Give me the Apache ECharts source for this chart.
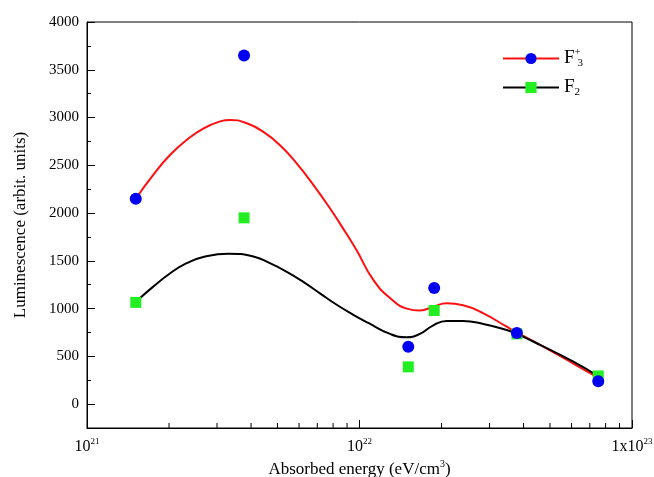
<!DOCTYPE html>
<html>
<head>
<meta charset="utf-8">
<title>Luminescence vs absorbed energy</title>
<style>
html,body{margin:0;padding:0;background:#fff;width:100%;height:100%;}
#main{width:654px;height:477px;}
</style>
<script src="https://cdn.jsdelivr.net/npm/echarts@6/dist/echarts.min.js"></script>
</head>
<body>
<div id="main"></div>
<script>
// measured points (absorbed energy eV/cm3, luminescence)
var energy = [1.51e21, 3.77e21, 1.51e22, 1.88e22, 3.78e22, 7.52e22];
var lumF3 = [2150, 3650, 600, 1215, 745, 240];
var lumF2 = [1065, 1950, 390, 980, 735, 295];

// fitted curves
var fitF3x = [1.51e21, 1.75e21, 2.02e21, 2.32e21, 2.67e21, 3.08e21, 3.35e21, 3.86e21, 4.44e21, 5.11e21, 5.88e21, 6.77e21, 7.79e21, 8.97e21, 9.76e21,
              1.124e22, 1.294e22, 1.49e22, 1.667e22, 1.866e22, 2.09e22, 2.4e22, 2.85e22, 3.47e22, 3.78e22, 4.6e22, 6.09e22, 7.42e22];
var fitF3y = [2150, 2400, 2610, 2765, 2885, 2960, 2975, 2940, 2850, 2710, 2520, 2295, 2050, 1780, 1610,
              1300, 1110, 1000, 980, 1020, 1055, 1035, 950, 810, 750, 620, 425, 285];
var fitF2x = [1.51e21, 1.75e21, 2.02e21, 2.32e21, 2.67e21, 3.3e21, 4.08e21, 4.69e21, 5.41e21, 6.22e21, 7.16e21, 8.25e21, 9.49e21,
              1.077e22, 1.294e22, 1.49e22, 1.667e22, 1.866e22, 2.09e22, 2.4e22, 2.85e22, 3.47e22, 3.78e22, 4.6e22, 6.09e22, 7.3e22];
var fitF2y = [1070, 1230, 1370, 1475, 1540, 1575, 1545, 1475, 1385, 1280, 1160, 1040, 935,
              850, 735, 700, 735, 825, 870, 870, 838, 775, 735, 620, 445, 315];

// x minor tick positions (2..9 per decade)
var xMinorTicks = [2e21, 3e21, 4e21, 5e21, 6e21, 7e21, 8e21, 9e21, 2e22, 3e22, 4e22, 5e22, 6e22, 7e22, 8e22, 9e22];

var yMin = -250, yMax = 4000;
var serif = 'Liberation Serif';

function pairs(xs, ys) {
    var out = [];
    for (var i = 0; i < xs.length; i++) out.push([xs[i], ys[i]]);
    return out;
}

var myChart = echarts.init(document.getElementById('main'), null, {renderer: 'canvas'});

// plot box 87..632 x 22..428 ; y=0 lies at 428 - 250*406/4250
var plotTop = 22, plotBottom = 477 - 428;
var zeroBottom = 477 - (428 - 250 * 406 / 4250);

var option = {
    backgroundColor: '#fff',
    animation: false,
    legend: {
        orient: 'vertical',
        left: 497,
        top: 42,
        itemWidth: 56,
        itemHeight: 14,
        itemGap: 9,
        data: ['F3+', 'F2'],
        formatter: function (name) {
            if (name === 'F3+') return '{f|F}{sup|+}{sub|3}';
            return '{f|F}{sub|2}';
        },
        textStyle: {
            fontFamily: serif,
            color: '#000',
            rich: {
                f: {fontFamily: serif, fontSize: 19, color: '#000'},
                sup: {fontFamily: serif, fontSize: 11, color: '#000', width: 3, padding: [0, 0, 12, 0]},
                sub: {fontFamily: serif, fontSize: 11, color: '#000', padding: [10, 0, 0, 0]}
            }
        }
    },
    grid: [
        {left: 87, right: 22, top: plotTop, bottom: plotBottom, show: true, borderColor: '#000', borderWidth: 1, containLabel: false, outerBoundsMode: 'none'},
        {left: 87, right: 22, top: plotTop, bottom: zeroBottom, show: false, containLabel: false, outerBoundsMode: 'none'}
    ],
    xAxis: [
        {
            type: 'log',
            logBase: 10,
            min: 1e21,
            max: 1e23,
            gridIndex: 0,
            splitLine: {show: false},
            axisLine: {onZero: false, lineStyle: {color: '#000', width: 1}},
            axisTick: {inside: true, length: 8, lineStyle: {color: '#000'}},
            axisLabel: {
                margin: 9,
                color: '#000',
                fontFamily: serif,
                fontSize: 16,
                formatter: function (v) {
                    var e = Math.round(Math.log10(v));
                    if (e === 23) return '1x10{sup|' + e + '}';
                    return '10{sup|' + e + '}';
                },
                rich: {
                    sup: {fontFamily: serif, fontSize: 9, color: '#000', padding: [0, 0, 10, 0]}
                }
            },
            name: 'Absorbed energy (eV/cm{sup|3})',
            nameLocation: 'middle',
            nameGap: 31,
            nameTextStyle: {
                fontFamily: serif,
                fontSize: 17,
                color: '#000',
                rich: {
                    sup: {fontFamily: serif, fontSize: 10, color: '#000', padding: [0, 0, 10, 0]}
                }
            }
        },
        {
            type: 'value',
            gridIndex: 1,
            min: 0,
            max: 1,
            show: false
        }
    ],
    yAxis: [
        {
            type: 'value',
            gridIndex: 0,
            min: yMin,
            max: yMax,
            axisLine: {show: true, onZero: false, lineStyle: {color: '#000', width: 1}},
            axisTick: {show: false},
            axisLabel: {show: false},
            splitLine: {show: false},
            name: 'Luminescence (arbit. units)',
            nameLocation: 'middle',
            nameGap: 58,
            nameTextStyle: {fontFamily: serif, fontSize: 17, color: '#000'}
        },
        {
            type: 'value',
            gridIndex: 1,
            min: 0,
            max: 4000,
            interval: 500,
            axisLine: {show: false, onZero: false},
            axisTick: {show: true, inside: true, length: 8, lineStyle: {color: '#000'}},
            minorTick: {show: true, splitNumber: 2, length: 4, lineStyle: {color: '#000'}},
            axisLabel: {
                margin: 8, color: '#000', fontFamily: serif, fontSize: 15,
                formatter: function (v) { return String(v); }
            },
            splitLine: {show: false}
        }
    ],
    series: [
        {
            name: 'F3+',
            type: 'line',
            xAxisIndex: 0,
            yAxisIndex: 0,
            data: pairs(fitF3x, fitF3y),
            smooth: 0.5,
            showSymbol: false,
            symbol: 'circle',
            lineStyle: {color: '#ff1010', width: 2},
            itemStyle: {color: '#0000f0'},
            z: 2
        },
        {
            name: 'F2',
            type: 'line',
            xAxisIndex: 0,
            yAxisIndex: 0,
            data: pairs(fitF2x, fitF2y),
            smooth: 0.5,
            showSymbol: false,
            symbol: 'rect',
            lineStyle: {color: '#000', width: 2},
            itemStyle: {color: '#22ee22'},
            z: 2
        },
        {
            name: 'F2 data',
            type: 'scatter',
            xAxisIndex: 0,
            yAxisIndex: 0,
            data: pairs(energy, lumF2),
            symbol: 'rect',
            symbolSize: 11,
            itemStyle: {color: '#22ee22', opacity: 1},
            z: 3
        },
        {
            name: 'F3+ data',
            type: 'scatter',
            xAxisIndex: 0,
            yAxisIndex: 0,
            data: pairs(energy, lumF3),
            symbol: 'circle',
            symbolSize: 12,
            itemStyle: {color: '#0000f0', opacity: 1},
            z: 4
        },
        {
            // minor ticks of the log x axis
            name: 'xminor',
            type: 'scatter',
            xAxisIndex: 0,
            yAxisIndex: 0,
            silent: true,
            clip: false,
            data: xMinorTicks.map(function (v) { return [v, yMin]; }),
            symbol: 'rect',
            symbolSize: [1, 5],
            symbolOffset: [0, -2.5],
            itemStyle: {color: '#000', opacity: 1},
            z: 5
        }
    ]
};

myChart.setOption(option, true);
</script>
</body>
</html>
